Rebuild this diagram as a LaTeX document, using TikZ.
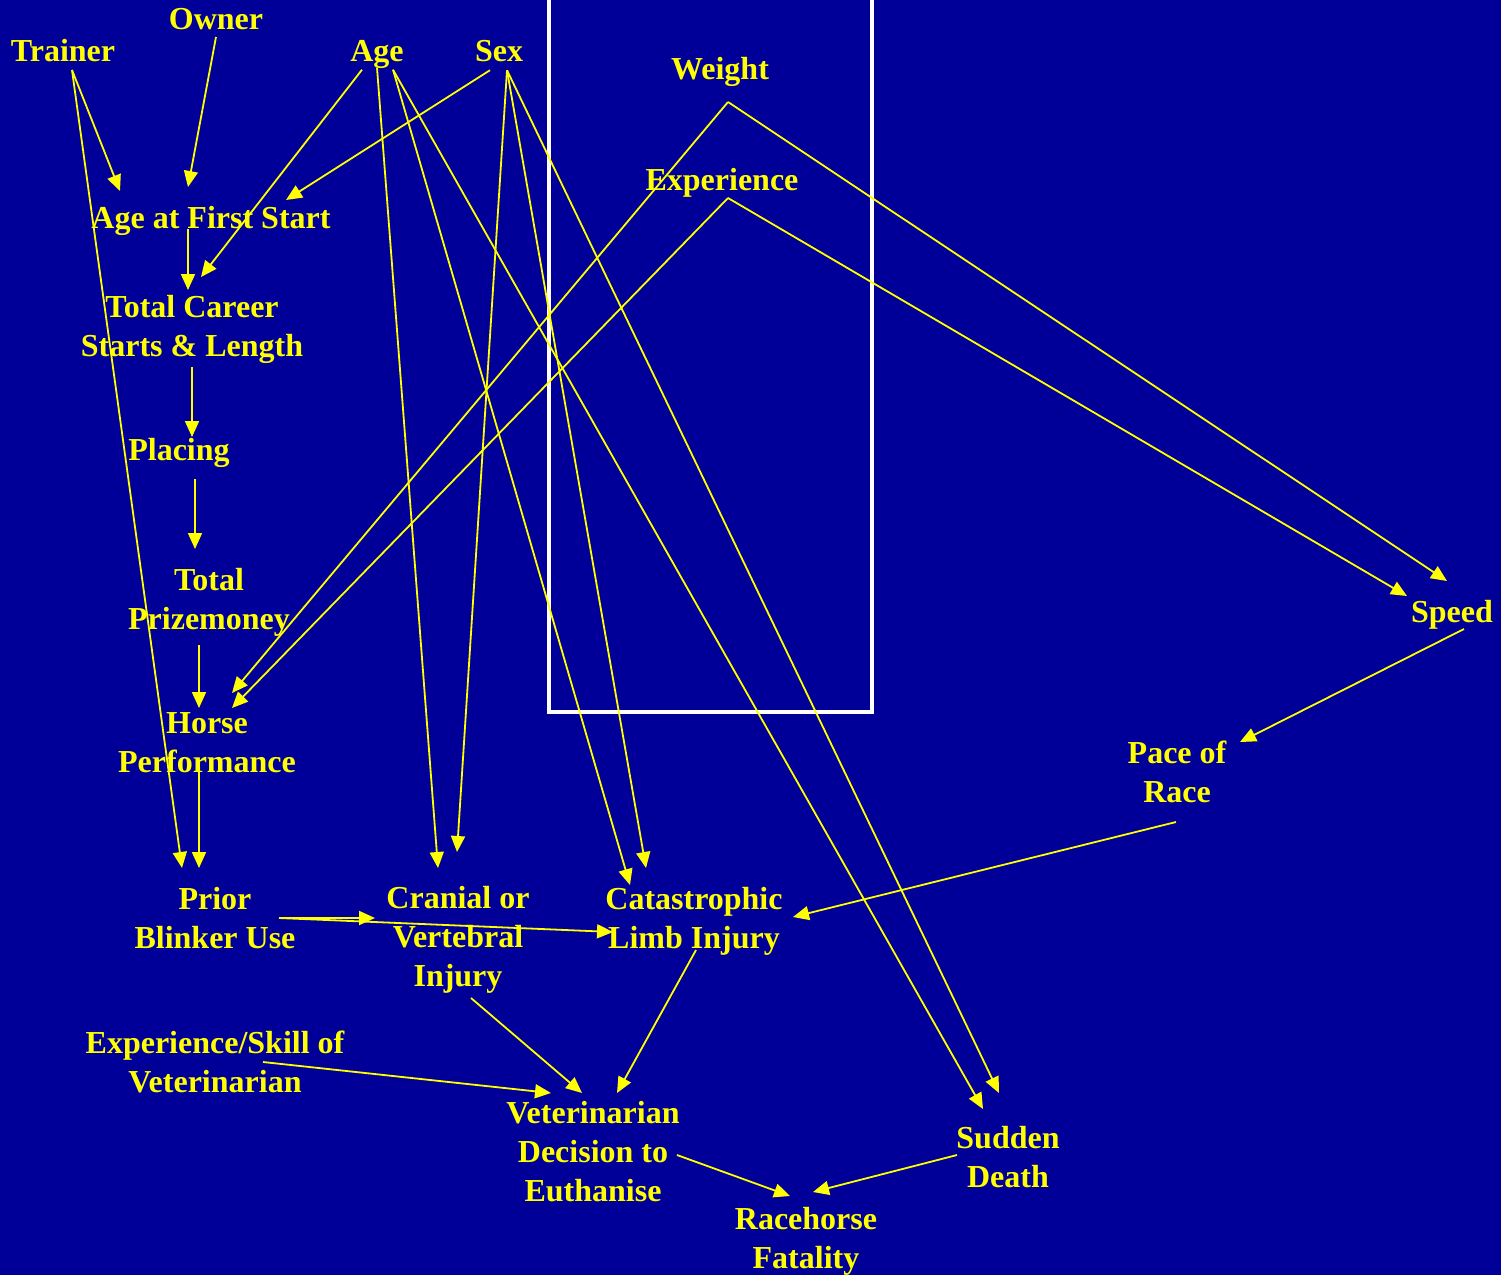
\documentclass[tikz,border=0pt]{standalone}
\usepackage{fontspec}
\setmainfont{Liberation Serif}
\usetikzlibrary{arrows.meta}
\definecolor{slideblue}{RGB}{0,0,153}
\definecolor{slideyellow}{RGB}{255,255,0}
\tikzset{
  factor/.style={text=slideyellow, align=center, inner sep=0pt,
    font=\fontsize{32}{39}\selectfont\bfseries},
  link/.style={draw=slideyellow, line width=1.8pt, ->}
}
\begin{document}
\begin{tikzpicture}[x=1pt, y=-1pt, >={Triangle[length=16pt,width=14pt]}]
\useasboundingbox[fill=slideblue] (0,0) rectangle (1501,1275);
\draw[white, line width=4pt] (549,-10) rectangle (872,712);

\node(owner)[factor] at (216,19) {Owner};
\node(trainer)[factor] at (63,51) {Trainer};
\node(age)[factor] at (377,54.7) {Age};
\node(sex)[factor] at (499,51.2) {Sex};
\node(weight)[factor] at (720,71.5) {Weight};
\node(exper)[factor] at (722,182.7) {Experience};
\node(afs)[factor] at (211,220.5) {Age at First Start};
\node(career)[factor] at (192,329) {Total Career\\Starts \& Length};
\node(placing)[factor] at (179,452.5) {Placing};
\node(prize)[factor] at (209,602) {Total\\Prizemoney};
\node(perf)[factor] at (207,742.5) {Horse\\Performance};
\node(blinker)[factor] at (215,918) {Prior\\Blinker Use};
\node(cranial)[factor] at (458,939.5) {Cranial or\\Vertebral\\Injury};
\node(limb)[factor] at (694,921.5) {Catastrophic\\Limb Injury};
\node(skill)[factor] at (215,1061.5) {Experience/Skill of\\Veterinarian};
\node(vet)[factor] at (593,1151.5) {Veterinarian\\Decision to\\Euthanise};
\node(fatal)[factor] at (806,1241.5) {Racehorse\\Fatality};
\node(sudden)[factor] at (1008,1157) {Sudden\\Death};
\node(speed)[factor] at (1452,614.5) {Speed};
\node(pace)[factor] at (1177,771.5) {Pace of\\Race};

% top row
\draw[link] ([shift={(9,19)}]trainer.center) -- ([shift={(-91,-29.5)}]afs.center);
\draw[link] ([shift={(9,19)}]trainer.center) -- ([shift={(-33,-50)}]blinker.center);
\draw[link] ([shift={(0,18)}]owner.center) -- ([shift={(-23,-33.5)}]afs.center);
\draw[link] ([shift={(-15,15)}]age.center) -- ([shift={(9,-52)}]career.center);
\draw[link] ([shift={(-9,19)}]sex.center) -- ([shift={(75,-20.5)}]afs.center);
\draw[link] ([shift={(0,13)}]age.center) -- ([shift={(-20,-71.5)}]cranial.center);
\draw[link] ([shift={(16,15)}]age.center) -- ([shift={(-64,-36.5)}]limb.center);
\draw[link] ([shift={(16,15)}]age.center) -- ([shift={(-25,-48)}]sudden.center);
\draw[link] ([shift={(8,19)}]sex.center) -- ([shift={(-1,-87.5)}]cranial.center);
\draw[link] ([shift={(8,19)}]sex.center) -- ([shift={(-48,-53.5)}]limb.center);
\draw[link] ([shift={(8,19)}]sex.center) -- ([shift={(-9,-64)}]sudden.center);
\draw[link] ([shift={(8,30.5)}]weight.center) -- ([shift={(25,-49.5)}]perf.center);
\draw[link] ([shift={(8,30.5)}]weight.center) -- ([shift={(-5,-33.5)}]speed.center);
\draw[link] ([shift={(6,15.3)}]exper.center) -- ([shift={(25,-34.5)}]perf.center);
\draw[link] ([shift={(6,15.3)}]exper.center) -- ([shift={(-45,-18.5)}]speed.center);

% left column
\draw[link] ([shift={(-23,8.5)}]afs.center) -- ([shift={(-4,-39)}]career.center);
\draw[link] ([shift={(0,38)}]career.center) -- ([shift={(13,-15.5)}]placing.center);
\draw[link] ([shift={(16,26.5)}]placing.center) -- ([shift={(-14,-53)}]prize.center);
\draw[link] ([shift={(-10,43)}]prize.center) -- ([shift={(-8,-34.5)}]perf.center);
\draw[link] ([shift={(-8,29.5)}]perf.center) -- ([shift={(-16,-50)}]blinker.center);
\draw[link] ([shift={(64,0)}]blinker.center) -- ([shift={(-83,-21.5)}]cranial.center);
\draw[link] ([shift={(64,0)}]blinker.center) -- ([shift={(-81,10.5)}]limb.center);

% right side and bottom
\draw[link] ([shift={(12,14.5)}]speed.center) -- ([shift={(63,-29.5)}]pace.center);
\draw[link] ([shift={(-1,50.5)}]pace.center) -- ([shift={(99,-4.5)}]limb.center);
\draw[link] ([shift={(2,28.5)}]limb.center) -- ([shift={(24,-58.5)}]vet.center);
\draw[link] ([shift={(13,58.5)}]cranial.center) -- ([shift={(-11,-58.5)}]vet.center);
\draw[link] ([shift={(48,0.5)}]skill.center) -- ([shift={(-42,-58.5)}]vet.center);
\draw[link] ([shift={(84,3.5)}]vet.center) -- ([shift={(-16,-45.5)}]fatal.center);
\draw[link] ([shift={(-51,-2)}]sudden.center) -- ([shift={(7,-49.5)}]fatal.center);
\end{tikzpicture}
\end{document}
